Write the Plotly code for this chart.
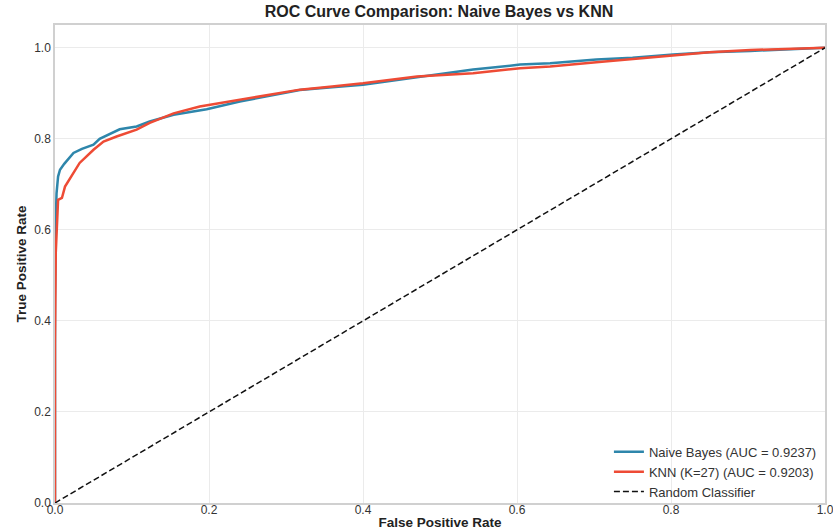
import plotly.graph_objects as go

nb_fpr = [0, 0, 0.001, 0.002, 0.004, 0.0065, 0.012, 0.018, 0.024, 0.035, 0.05, 0.058, 0.07, 0.084,
          0.106, 0.123, 0.154, 0.197, 0.24, 0.28, 0.318, 0.36, 0.40, 0.47, 0.543, 0.604, 0.643,
          0.703, 0.75, 0.803, 0.85, 0.903, 0.95, 1.0]
nb_tpr = [0, 0.45, 0.62, 0.68, 0.717, 0.732, 0.745, 0.757, 0.769, 0.778, 0.787, 0.80, 0.81, 0.821,
          0.827, 0.838, 0.853, 0.865, 0.882, 0.895, 0.907, 0.913, 0.919, 0.935, 0.952, 0.963, 0.966,
          0.974, 0.978, 0.985, 0.99, 0.993, 0.997, 1.0]

knn_fpr = [0, 0, 0.001, 0.002, 0.004, 0.009, 0.013, 0.024, 0.032, 0.05, 0.063, 0.08, 0.106, 0.123,
           0.154, 0.188, 0.24, 0.28, 0.318, 0.36, 0.40, 0.47, 0.543, 0.604, 0.643, 0.703, 0.75,
           0.803, 0.85, 0.903, 0.95, 1.0]
knn_tpr = [0, 0.35, 0.55, 0.6, 0.666, 0.67, 0.695, 0.725, 0.747, 0.776, 0.794, 0.805, 0.82, 0.835,
           0.856, 0.871, 0.886, 0.898, 0.908, 0.915, 0.922, 0.937, 0.944, 0.955, 0.959, 0.968, 0.975,
           0.983, 0.99, 0.995, 0.998, 1.0]

diag = [0, 1]
tick_vals = [0, 0.2, 0.4, 0.6, 0.8, 1.0]
tick_text = ["0.0", "0.2", "0.4", "0.6", "0.8", "1.0"]

FONT = "Liberation Sans, Arial"

fig = go.Figure()
fig.add_trace(go.Scatter(x=nb_fpr, y=nb_tpr, mode="lines", name="Naive Bayes (AUC = 0.9237)",
                         line=dict(color="#2E86AB", width=2.5)))
fig.add_trace(go.Scatter(x=knn_fpr, y=knn_tpr, mode="lines", name="KNN (K=27) (AUC = 0.9203)",
                         line=dict(color="#EE4B35", width=2.5)))
fig.add_trace(go.Scatter(x=diag, y=diag, mode="lines", name="Random Classifier",
                         line=dict(color="#111111", width=1.5, dash="6px,3px")))

axis_common = dict(showgrid=True, gridcolor="#ebebeb", gridwidth=1, zeroline=False,
                   showline=True, linecolor="#d0d0d0", linewidth=1.5, mirror=True,
                   ticks="", ticklen=0, automargin=False, ticklabeloverflow="allow",
                   tickfont=dict(family=FONT, size=12, color="#333333"))

fig.update_layout(
    width=833, height=530,
    margin=dict(l=55, r=8, t=25, b=27),
    paper_bgcolor="white", plot_bgcolor="white",
    title=dict(text="<b>ROC Curve Comparison: Naive Bayes vs KNN</b>", x=0.527, xanchor="center",
               y=0.978, yanchor="middle",
               font=dict(family=FONT, size=16, color="#222222")),
    xaxis=dict(range=[0, 1], tickvals=tick_vals, ticktext=tick_text, ticklabelstandoff=-5,
               title=dict(text="<b>False Positive Rate</b>", standoff=3,
                          font=dict(family=FONT, size=13.5, color="#222222")),
               **axis_common),
    yaxis=dict(range=[0, 1.05], tickvals=tick_vals, ticktext=tick_text,
               title=dict(text="<b>True Positive Rate</b>", standoff=4,
                          font=dict(family=FONT, size=13.5, color="#222222")),
               **axis_common),
    legend=dict(x=0.996, y=-0.008, xanchor="right", yanchor="bottom", bgcolor="rgba(255,255,255,0)",
                font=dict(family=FONT, size=13, color="#333333"),
                tracegroupgap=0, itemwidth=30),
    showlegend=True,
)

fig.write_html("out.html")
